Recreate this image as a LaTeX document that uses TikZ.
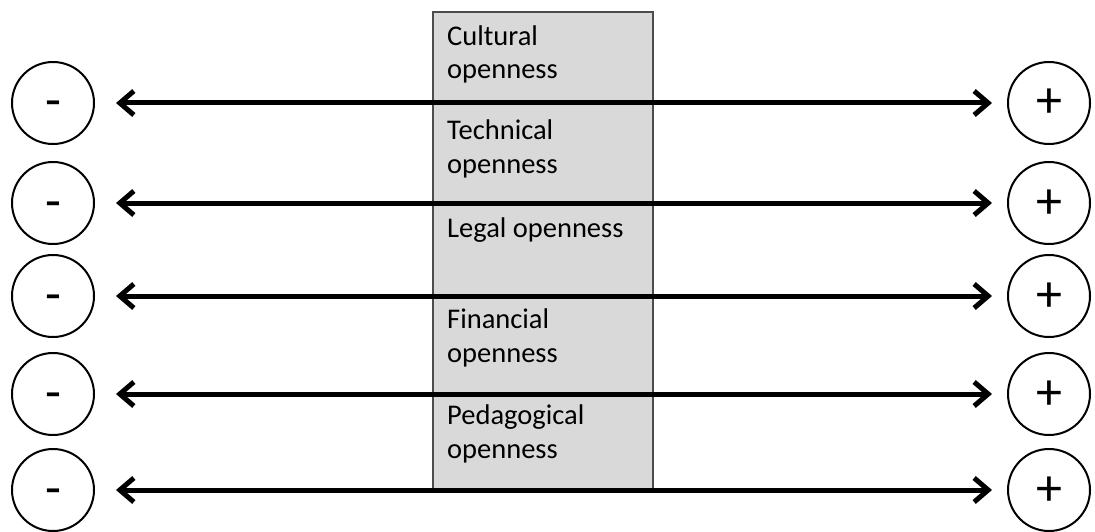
\documentclass[tikz,border=0pt]{standalone}
\usepackage{fontspec}
\setmainfont{Carlito}
\usetikzlibrary{arrows.meta}

\begin{document}
\begin{tikzpicture}[x=1pt, y=-1pt,
    sign/.style={draw, circle, line width=2pt, minimum size=82pt, inner sep=0pt,
      text height=30pt, text depth=0pt, font=\fontsize{52}{52}\selectfont},
    axis/.style={line width=5pt,
      {Straight Barb[length=14pt,width=24pt]}-{Straight Barb[length=14pt,width=24pt]}},
    opentext/.style={anchor=base west, align=left, inner xsep=0pt,
      font=\fontsize{28.5}{33.5}\selectfont}]
    \useasboundingbox (0,0) rectangle (1095,532);

    %----------------------------------------
    % grey column with the five kinds of openness
    % (base = baseline of the last line)
    %----------------------------------------
    \filldraw[fill=black!15, draw=black!70, line width=1.5pt] (433,12) rectangle (653,489);

    \node[opentext] (cultural)  at (447,79)  {Cultural\\openness};
    \node[opentext] (technical) at (447,173) {Technical\\openness};
    \node[opentext] (legal)     at (447,237) {Legal openness};
    \node[opentext] (financial) at (447,362) {Financial\\openness};
    \node[opentext] (pedagog)   at (447,458) {Pedagogical\\openness};

    %----------------------------------------
    % one row per line: minus, arrow, plus
    %----------------------------------------
    \foreach \i/\y in {1/103, 2/203, 3/296, 4/394, 5/490}{
       \node[sign] (minus\i) at (53,\y)   {-};
       \node[sign] (plus\i)  at (1049,\y) {+};
       \draw[axis, shorten <=21pt, shorten >=15pt] (minus\i) -- (plus\i);
    }

\end{tikzpicture}
\end{document}
